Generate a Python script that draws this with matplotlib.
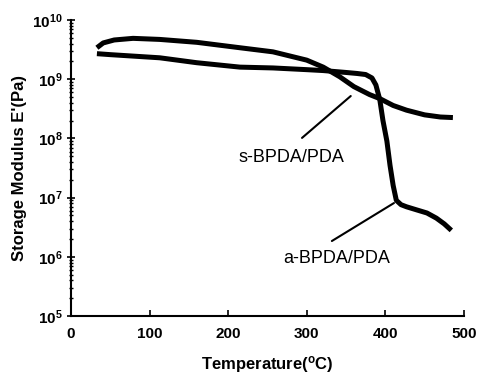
import numpy as np
import matplotlib
matplotlib.use("Agg")
import matplotlib.pyplot as plt
from matplotlib.ticker import FixedLocator, FuncFormatter, LogLocator, NullFormatter

plt.rcParams['font.family'] = ['Liberation Sans', 'DejaVu Sans']
plt.rcParams['mathtext.fontset'] = 'custom'
plt.rcParams['mathtext.rm'] = 'Liberation Sans'
plt.rcParams['mathtext.bf'] = 'Liberation Sans:bold'

# s-BPDA/PDA (smooth decline)
temp_s = [33, 41, 55, 79, 113, 160, 215, 257, 300, 321, 342, 360, 380, 393, 410, 427, 450, 470, 486]
mod_s = [3.4e9, 4.1e9, 4.6e9, 4.9e9, 4.7e9, 4.2e9, 3.4e9, 2.9e9, 2.1e9, 1.6e9, 1.1e9, 7.5e8,
         5.5e8, 4.7e8, 3.6e8, 3.0e8, 2.5e8, 2.3e8, 2.25e8]

# a-BPDA/PDA (sharp drop near 400 C)
temp_a = [33, 50, 113, 160, 215, 257, 300, 321, 350, 364, 375, 383, 388, 393, 397, 402, 406,
          410, 414, 420, 427, 440, 453, 465, 475, 484]
mod_a = [2.7e9, 2.6e9, 2.3e9, 1.9e9, 1.6e9, 1.55e9, 1.45e9, 1.4e9, 1.3e9, 1.25e9, 1.2e9, 1.05e9,
         8e8, 4.5e8, 2e8, 9e7, 3.5e7, 1.6e7, 9e6, 7.6e6, 7e6, 6.2e6, 5.5e6, 4.5e6, 3.6e6, 2.8e6]

fig = plt.figure(figsize=(4.78, 3.74), dpi=100)
ax = fig.add_axes([0.1485, 0.155, 0.822, 0.7915])

ax.plot(temp_s, mod_s, 'k-', lw=3.6, solid_capstyle='butt')
ax.plot(temp_a, mod_a, 'k-', lw=3.6, solid_capstyle='butt')

ax.set_yscale('log')
ax.set_xlim(0, 500)
ax.set_ylim(1e5, 1e10)

ax.spines['top'].set_visible(False)
ax.spines['right'].set_visible(False)
ax.spines['left'].set_linewidth(1.5)
ax.spines['bottom'].set_linewidth(1.5)

ax.xaxis.set_major_locator(FixedLocator([0, 100, 200, 300, 400, 500]))
ax.yaxis.set_major_locator(LogLocator(base=10, numticks=10))
ax.yaxis.set_minor_locator(LogLocator(base=10, subs=np.arange(2, 10), numticks=10))
ax.yaxis.set_minor_formatter(NullFormatter())
ax.yaxis.set_major_formatter(FuncFormatter(lambda v, p: r'$\mathbf{10^{%d}}$' % round(np.log10(v))))

ax.tick_params(axis='x', direction='in', length=4, width=1.2, labelsize=11, pad=8)
ax.tick_params(axis='y', which='major', direction='inout', length=6, width=1.2, labelsize=11, pad=3)
ax.tick_params(axis='y', which='minor', direction='inout', length=3, width=1.0)
for lab in ax.get_xticklabels():
    lab.set_fontweight('bold')

ax.set_xlabel('Temperature($\\mathbf{^o}$C)', fontsize=12, fontweight='bold', labelpad=9)
ax.set_ylabel("Storage Modulus E'(Pa)", fontsize=12, fontweight='bold', labelpad=4)

# leader lines and labels
ax.annotate('', xy=(356, 5.2e8), xytext=(294, 1.02e8),
            arrowprops=dict(arrowstyle='-', color='k', lw=1.5, shrinkA=0, shrinkB=0))
ax.text(280, 4.85e7, 's-BPDA/PDA', fontsize=13, ha='center', va='center')
ax.annotate('', xy=(411, 8.1e6), xytext=(332, 1.85e6),
            arrowprops=dict(arrowstyle='-', color='k', lw=1.5, shrinkA=0, shrinkB=0))
ax.text(338, 9.5e5, 'a-BPDA/PDA', fontsize=13, ha='center', va='center')

fig.savefig('out.png', dpi=100)
